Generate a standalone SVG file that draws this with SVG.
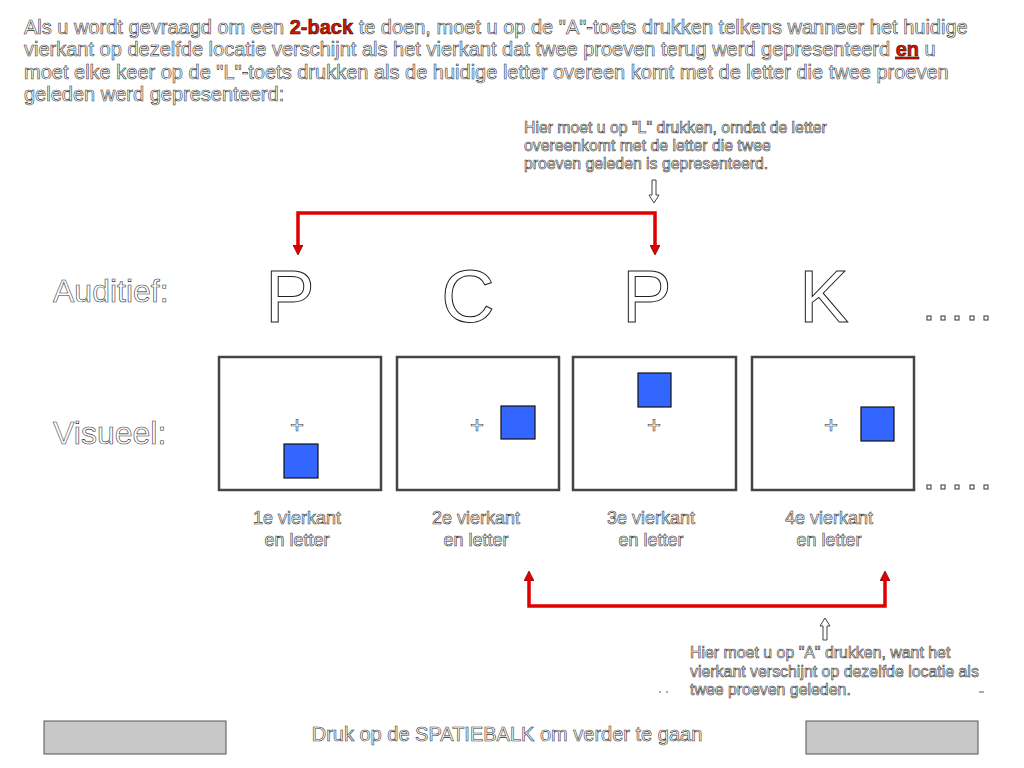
<svg xmlns="http://www.w3.org/2000/svg" width="1024" height="768" viewBox="0 0 1024 768">
<defs>
<style>
.t{font-family:"Liberation Sans",Arial,sans-serif;fill:#fff;stroke:#333;stroke-width:0.6}
.red{fill:#d41a00;stroke:#300;stroke-width:0.6;font-weight:bold}
.big{font-family:"Liberation Sans",Arial,sans-serif;fill:#fff;stroke:#222;stroke-width:1;font-size:74px}
.box{fill:#fff;stroke:#444;stroke-width:2.5}
.sq{fill:#3366ff;stroke:#111;stroke-width:1.2}
.conn{fill:none;stroke:#e00000;stroke-width:3.5}
.hollow{fill:#fff;stroke:#444;stroke-width:1}
.dot{fill:#fff;stroke:#333;stroke-width:1}
.btn{fill:#c8c8c8;stroke:#555;stroke-width:1}
</style>
<marker id="ah" viewBox="0 0 10 10" refX="5" refY="5" markerWidth="3" markerHeight="3" orient="auto-start-reverse" markerUnits="strokeWidth">
<path d="M0,0 L10,5 L0,10 Z" fill="#e00000" stroke="#300" stroke-width="0.5"/>
</marker>
</defs>
<rect width="1024" height="768" fill="#fff"/>

<g id="intro" class="t" font-size="20">
<text x="24" y="34">Als u wordt gevraagd om een <tspan class="red">2-back</tspan> te doen, moet u op de "A"-toets drukken telkens wanneer het huidige</text>
<text x="24" y="56">vierkant op dezelfde locatie verschijnt als het vierkant dat twee proeven terug werd gepresenteerd <tspan class="red" text-decoration="underline">en</tspan> u</text>
<text x="24" y="79">moet elke keer op de "L"-toets drukken als de huidige letter overeen komt met de letter die twee proeven</text>
<text x="24" y="101">geleden werd gepresenteerd:</text>
</g>

<g id="callout-L" class="t" font-size="15.8" stroke-width="0.55">
<text x="524" y="133">Hier moet u op "L" drukken, omdat de letter</text>
<text x="524" y="151">overeenkomt met de letter die twee</text>
<text x="524" y="169">proeven geleden is gepresenteerd.</text>
</g>

<g id="labels" class="t" font-size="32" stroke-width="0.8">
<text x="53" y="302">Auditief:</text>
<text x="53" y="444">Visueel:</text>
</g>

<g id="letters" class="big" text-anchor="middle">
<text x="290" y="322">P</text>
<text x="468" y="322">C</text>
<text x="647" y="322">P</text>
<text x="824" y="322">K</text>
</g>

<g id="dots">
<rect class="dot" x="927" y="316" width="4" height="4"/>
<rect class="dot" x="941" y="316" width="4" height="4"/>
<rect class="dot" x="955" y="316" width="4" height="4"/>
<rect class="dot" x="970" y="316" width="4" height="4"/>
<rect class="dot" x="984" y="316" width="4" height="4"/>
<rect class="dot" x="927" y="485" width="4" height="4"/>
<rect class="dot" x="941" y="485" width="4" height="4"/>
<rect class="dot" x="955" y="485" width="4" height="4"/>
<rect class="dot" x="970" y="485" width="4" height="4"/>
<rect class="dot" x="984" y="485" width="4" height="4"/>
</g>

<g id="trial1">
<rect class="box" x="219" y="357" width="162" height="133"/>
<text class="t" x="297" y="433" font-size="24" text-anchor="middle">+</text>
<rect class="sq" x="284" y="444" width="34" height="34"/>
<text class="t" font-size="18" text-anchor="middle"><tspan x="297" y="524">1e vierkant</tspan><tspan x="297" y="546">en letter</tspan></text>
</g>
<g id="trial2">
<rect class="box" x="397" y="357" width="162" height="133"/>
<text class="t" x="477" y="433" font-size="24" text-anchor="middle">+</text>
<rect class="sq" x="501" y="406" width="34" height="33"/>
<text class="t" font-size="18" text-anchor="middle"><tspan x="476" y="524">2e vierkant</tspan><tspan x="476" y="546">en letter</tspan></text>
</g>
<g id="trial3">
<rect class="box" x="573" y="357" width="163" height="133"/>
<text class="t" x="654" y="433" font-size="24" text-anchor="middle">+</text>
<rect class="sq" x="638" y="373" width="33" height="34"/>
<text class="t" font-size="18" text-anchor="middle"><tspan x="651" y="524">3e vierkant</tspan><tspan x="651" y="546">en letter</tspan></text>
</g>
<g id="trial4">
<rect class="box" x="752" y="357" width="162" height="133"/>
<text class="t" x="831" y="433" font-size="24" text-anchor="middle">+</text>
<rect class="sq" x="861" y="407" width="33" height="34"/>
<text class="t" font-size="18" text-anchor="middle"><tspan x="829" y="524">4e vierkant</tspan><tspan x="829" y="546">en letter</tspan></text>
</g>

<g id="connectors">
<path class="conn" d="M298,250 V213 H655 V250" marker-start="url(#ah)" marker-end="url(#ah)"/>
<path class="conn" d="M529,576 V606 H885 V576" marker-start="url(#ah)" marker-end="url(#ah)"/>
<path class="hollow" d="M652,180 V195 H649 L654,203 L659,195 H656 V180 Z"/>
<path class="hollow" d="M823,640 V626 H820 L825,618 L830,626 H827 V640 Z"/>
</g>

<g id="callout-A" class="t" font-size="15.9" stroke-width="0.55">
<text x="690" y="658">Hier moet u op "A" drukken, want het</text>
<text x="690" y="677">vierkant verschijnt op dezelfde locatie als</text>
<text x="690" y="695">twee proeven geleden.</text>
</g>
<g id="marks" stroke="#555" stroke-width="1">
<line x1="659" y1="692" x2="661" y2="692"/>
<line x1="666" y1="692" x2="668" y2="692"/>
<line x1="979" y1="692" x2="984" y2="692"/>
</g>

<g id="footer">
<rect class="btn" x="44" y="721" width="182" height="33"/>
<rect class="btn" x="806" y="721" width="172" height="33"/>
<text class="t" x="507" y="741" font-size="20" text-anchor="middle">Druk op de SPATIEBALK om verder te gaan</text>
</g>
</svg>
